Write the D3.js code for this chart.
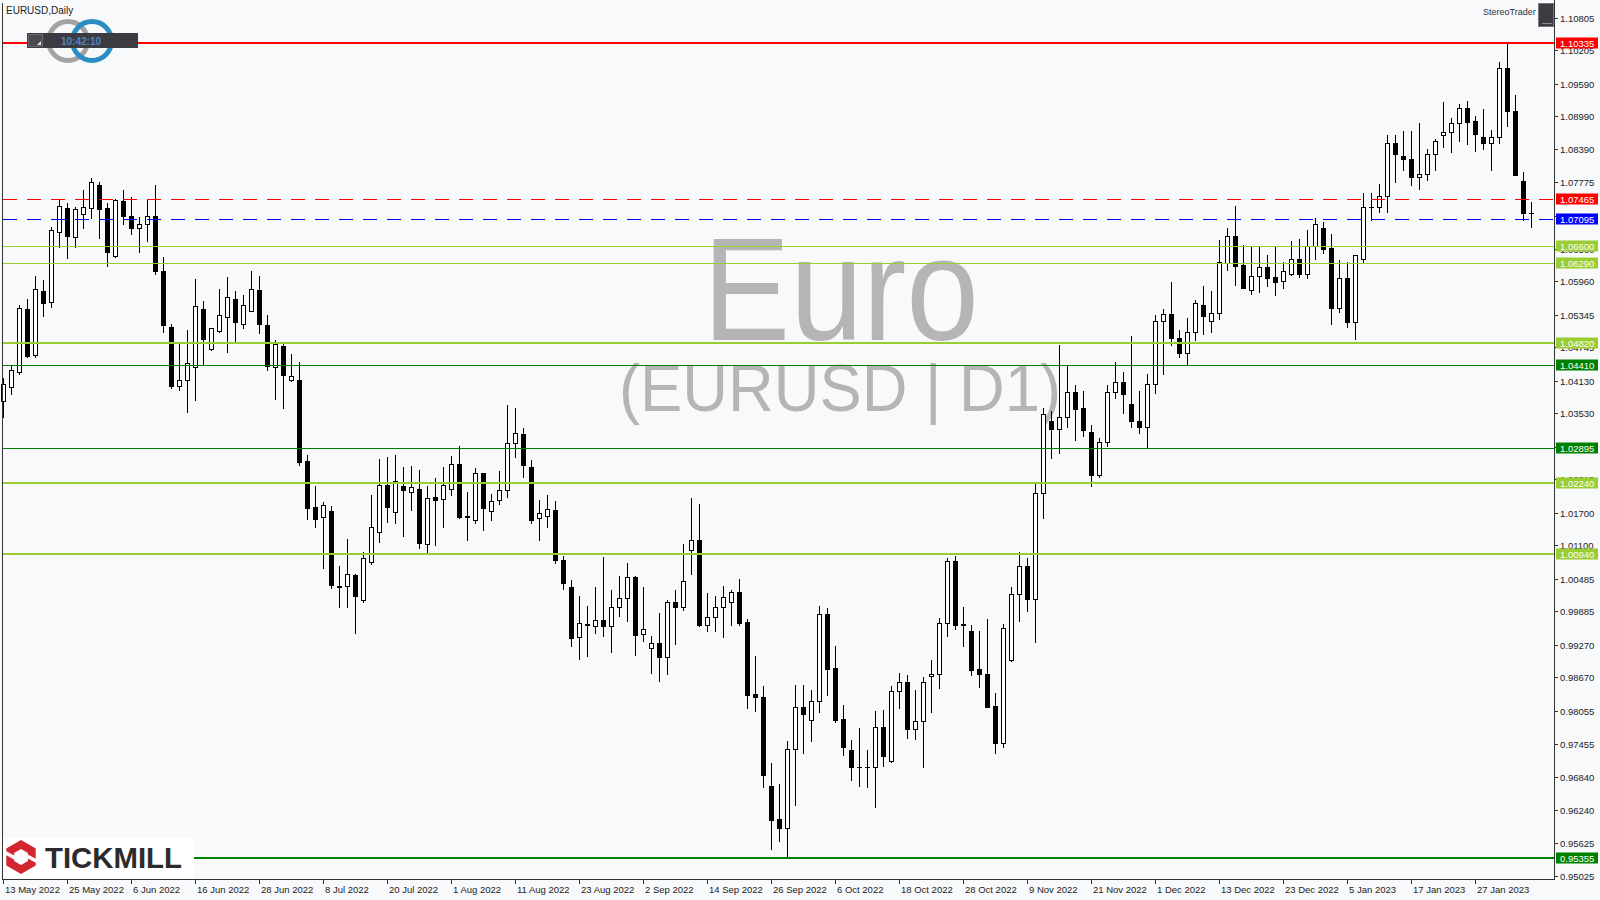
<!DOCTYPE html>
<html><head><meta charset="utf-8">
<script src="https://cdn.jsdelivr.net/npm/d3@7"></script>
<style>html,body{margin:0;padding:0;background:#f8f9fb;}svg{display:block;}</style>
</head><body>
<svg id="chart" width="1600" height="900"></svg>
<script>
// ---- data ----
const dateLabels = ["13 May 2022","25 May 2022","6 Jun 2022","16 Jun 2022","28 Jun 2022","8 Jul 2022","20 Jul 2022","1 Aug 2022","11 Aug 2022","23 Aug 2022","2 Sep 2022","14 Sep 2022","26 Sep 2022","6 Oct 2022","18 Oct 2022","28 Oct 2022","9 Nov 2022","21 Nov 2022","1 Dec 2022","13 Dec 2022","23 Dec 2022","5 Jan 2023","17 Jan 2023","27 Jan 2023"];
const barsPerLabel = 8;
const opens = [1.0376,1.0401,1.0429,1.0544,1.0460,1.0577,1.0557,1.0686,1.0730,1.0677,
1.0719,1.0730,1.0773,1.0730,1.0642,1.0743,1.0715,1.0693,1.0702,1.0715,
1.0614,1.0511,1.0404,1.0414,1.0438,1.0544,1.0472,1.0505,1.0530,1.0563,
1.0517,1.0542,1.0579,1.0515,1.0438,1.0476,1.0415,1.0415,1.0265,1.0181,
1.0162,1.0173,1.0035,1.0036,1.0056,1.0010,1.0080,1.0135,1.0221,1.0172,
1.0220,1.0208,1.0214,1.0113,1.0199,1.0195,1.0213,1.0260,1.0164,1.0157,
1.0243,1.0173,1.0193,1.0211,1.0298,1.0315,1.0254,1.0160,1.0164,1.0175,
1.0083,1.0033,0.9941,0.9964,0.9962,0.9973,0.9961,0.9996,1.0013,1.0051,
0.9947,0.9921,0.9930,0.9904,1.0006,0.9997,1.0101,1.0119,0.9964,0.9978,
0.9996,1.0005,1.0024,0.9969,0.9836,0.9831,0.9668,0.9606,0.9591,0.9735,
0.9812,0.9788,0.9823,0.9983,0.9884,0.9790,0.9734,0.9703,0.9702,0.9702,
0.9776,0.9714,0.9842,0.9858,0.9772,0.9787,0.9869,0.9873,0.9967,1.0081,
0.9964,0.9953,0.9883,0.9874,0.9815,0.9747,0.9899,1.0020,1.0072,1.0011,
1.0206,1.0339,1.0324,1.0346,1.0392,1.0362,1.0318,1.0239,1.0301,1.0393,
1.0410,1.0370,1.0339,1.0327,1.0406,1.0522,1.0535,1.0491,1.0464,1.0503,
1.0553,1.0523,1.0537,1.0630,1.0679,1.0626,1.0579,1.0605,1.0622,1.0604,
1.0596,1.0609,1.0636,1.0610,1.0660,1.0693,1.0657,1.0546,1.0601,1.0520,
1.0636,1.0732,1.0732,1.0753,1.0850,1.0827,1.0821,1.0787,1.0793,1.0829,
1.0864,1.0870,1.0886,1.0914,1.0891,1.0861,1.0850,1.0861,1.0988,1.0909,
1.0780,1.0722];
const highs = [1.0418,1.0441,1.0553,1.0563,1.0605,1.0598,1.0696,1.0747,1.0739,1.0733,
1.0764,1.0786,1.0778,1.0739,1.0748,1.0764,1.0751,1.0714,1.0747,1.0773,
1.0640,1.0518,1.0484,1.0506,1.0600,1.0560,1.0510,1.0582,1.0603,1.0578,
1.0570,1.0614,1.0605,1.0533,1.0488,1.0484,1.0462,1.0447,1.0276,1.0219,
1.0190,1.0183,1.0072,1.0122,1.0057,1.0097,1.0203,1.0269,1.0273,1.0276,
1.0254,1.0256,1.0249,1.0219,1.0234,1.0254,1.0274,1.0293,1.0208,1.0252,
1.0244,1.0205,1.0247,1.0368,1.0363,1.0326,1.0267,1.0194,1.0202,1.0192,
1.0091,1.0046,1.0017,0.9999,1.0034,1.0089,1.0028,1.0053,1.0077,1.0054,
1.0034,0.9943,0.9985,1.0009,1.0028,1.0112,1.0197,1.0186,1.0023,1.0017,
1.0035,1.0028,1.0049,0.9974,0.9907,0.9851,0.9709,0.9671,0.9750,0.9853,
0.9853,0.9844,0.9999,0.9995,0.9925,0.9816,0.9752,0.9774,0.9734,0.9806,
0.9807,0.9851,0.9875,0.9872,0.9844,0.9867,0.9899,0.9976,1.0087,1.0091,
0.9996,0.9964,0.9953,0.9974,0.9838,0.9966,1.0034,1.0097,1.0087,1.0222,
1.0363,1.0357,1.0479,1.0440,1.0405,1.0394,1.0331,1.0308,1.0405,1.0447,
1.0428,1.0495,1.0394,1.0426,1.0534,1.0545,1.0595,1.0506,1.0528,1.0562,
1.0587,1.0578,1.0672,1.0693,1.0734,1.0662,1.0658,1.0658,1.0644,1.0658,
1.0631,1.0669,1.0673,1.0690,1.0712,1.0705,1.0682,1.0635,1.0632,1.0645,
1.0759,1.0758,1.0774,1.0865,1.0865,1.0872,1.0872,1.0887,1.0839,1.0857,
1.0926,1.0896,1.0921,1.0927,1.0899,1.0913,1.0874,1.0999,1.1033,1.0938,
1.0797,1.0741];
const lows = [1.0347,1.0388,1.0426,1.0457,1.0457,1.0531,1.0549,1.0659,1.0639,1.0659,
1.0694,1.0713,1.0676,1.0624,1.0640,1.0702,1.0682,1.0650,1.0669,1.0610,
1.0503,1.0399,1.0395,1.0356,1.0378,1.0442,1.0469,1.0503,1.0466,1.0482,
1.0510,1.0541,1.0501,1.0433,1.0380,1.0363,1.0413,1.0258,1.0159,1.0143,
1.0069,1.0032,0.9997,0.9996,0.9949,1.0005,1.0076,1.0116,1.0153,1.0152,
1.0128,1.0175,1.0105,1.0094,1.0111,1.0144,1.0203,1.0160,1.0120,1.0151,
1.0138,1.0157,1.0187,1.0199,1.0273,1.0236,1.0151,1.0120,1.0143,1.0078,
1.0030,0.9924,0.9901,0.9907,0.9948,0.9943,0.9913,0.9980,0.9970,0.9909,
0.9935,0.9876,0.9861,0.9874,0.9929,0.9991,1.0057,0.9962,0.9953,0.9953,
0.9942,0.9964,0.9964,0.9810,0.9806,0.9666,0.9551,0.9567,0.9536,0.9633,
0.9728,0.9751,0.9804,0.9834,0.9786,0.9725,0.9679,0.9668,0.9666,0.9629,
0.9705,0.9712,0.9810,0.9755,0.9753,0.9703,0.9804,0.9847,0.9943,0.9956,
0.9924,0.9871,0.9850,0.9812,0.9729,0.9739,0.9898,0.9970,0.9990,0.9933,
1.0161,1.0270,1.0279,1.0328,1.0303,1.0312,1.0220,1.0236,1.0293,1.0381,
1.0353,1.0328,1.0317,1.0289,1.0391,1.0426,1.0479,1.0457,1.0441,1.0488,
1.0499,1.0503,1.0526,1.0617,1.0589,1.0583,1.0573,1.0576,1.0587,1.0571,
1.0584,1.0608,1.0603,1.0602,1.0636,1.0647,1.0518,1.0539,1.0512,1.0489,
1.0630,1.0709,1.0724,1.0724,1.0779,1.0800,1.0772,1.0765,1.0782,1.0800,
1.0843,1.0833,1.0854,1.0849,1.0836,1.0839,1.0800,1.0851,1.0881,1.0791,
1.0709,1.0695];
const closes = [1.0406,1.0432,1.0546,1.0459,1.0581,1.0556,1.0691,1.0734,1.0679,1.0728,
1.0732,1.0778,1.0729,1.0650,1.0745,1.0716,1.0693,1.0702,1.0715,1.0615,
1.0516,1.0404,1.0415,1.0445,1.0550,1.0490,1.0509,1.0533,1.0566,1.0520,
1.0553,1.0581,1.0518,1.0440,1.0480,1.0424,1.0421,1.0263,1.0179,1.0159,
1.0184,1.0038,1.0034,1.0057,1.0016,1.0086,1.0144,1.0221,1.0181,1.0228,
1.0212,1.0217,1.0115,1.0197,1.0194,1.0221,1.0259,1.0162,1.0163,1.0244,
1.0179,1.0191,1.0211,1.0298,1.0316,1.0257,1.0157,1.0169,1.0177,1.0084,
1.0040,0.9940,0.9967,0.9965,0.9973,0.9961,0.9996,1.0013,1.0051,0.9946,
0.9956,0.9930,0.9905,1.0005,0.9997,1.0044,1.0119,0.9964,0.9978,0.9996,
1.0015,1.0024,0.9968,0.9835,0.9832,0.9688,0.9605,0.9591,0.9735,0.9812,
0.9799,0.9823,0.9983,0.9883,0.9789,0.9740,0.9702,0.9702,0.9703,0.9776,
0.9723,0.9842,0.9858,0.9772,0.9787,0.9858,0.9873,0.9967,1.0081,0.9963,
0.9965,0.9881,0.9873,0.9813,0.9747,0.9958,1.0020,1.0072,1.0011,1.0206,
1.0351,1.0324,1.0346,1.0392,1.0361,1.0322,1.0239,1.0301,1.0393,1.0410,
1.0388,1.0338,1.0327,1.0406,1.0522,1.0535,1.0491,1.0464,1.0503,1.0555,
1.0531,1.0537,1.0631,1.0679,1.0624,1.0584,1.0605,1.0622,1.0602,1.0595,
1.0614,1.0636,1.0610,1.0660,1.0701,1.0656,1.0547,1.0601,1.0520,1.0644,
1.0732,1.0732,1.0753,1.0850,1.0829,1.0820,1.0787,1.0793,1.0829,1.0853,
1.0870,1.0886,1.0914,1.0889,1.0866,1.0850,1.0861,1.0988,1.0909,1.0792,
1.0722,1.0721];
const priceTicks = [1.10805,1.10205,1.09590,1.08990,1.08390,1.07775,1.07165,1.06560,1.05960,1.05345,1.04745,1.04130,1.03530,1.02915,1.02315,1.01700,1.01100,1.00485,0.99885,0.99270,0.98670,0.98055,0.97455,0.96840,0.96240,0.95625,0.95025];
const levelPrices = [1.10335,1.07465,1.07095,1.06600,1.06290,1.04820,1.04410,1.02895,1.02240,1.00940,0.95355];
const symbolTitle = "EURUSD,Daily";
const watermarkMain = "Euro";
const watermarkSub = "(EURUSD | D1)";
const clockText = "10:42:10";

// ---- styles (kept separate from data) ----
const RED = "#ff0000", BLUE = "#0000ff", YG = "#9acd32", GRN = "#008000";
const levelStyles = [
  {c:RED,w:2,dash:null},{c:RED,w:1,dash:"14,10"},{c:BLUE,w:1,dash:"14,10"},
  {c:YG,w:1,dash:null},{c:YG,w:1,dash:null},{c:YG,w:2,dash:null},
  {c:GRN,w:1,dash:null},{c:GRN,w:1,dash:null},{c:YG,w:2,dash:null},
  {c:YG,w:2,dash:null},{c:GRN,w:2,dash:null}
];
const FONT = "'Liberation Sans', Arial, sans-serif";

// ---- layout ----
const plotLeft = 3, plotRight = 1554, plotBottom = 879;
const svg = d3.select("#chart");
const n = opens.length;
const x = d3.scaleLinear().domain([0, n - 1]).range([3.3, 1531.3]);
const y = d3.scaleLinear().domain([0.95355, 1.10335]).range([857.7, 43.3]);
const cx = i => Math.round(x(i));

svg.append("rect").attr("width",1600).attr("height",900).attr("fill","#f8f9fb");

// watermark
const wm = svg.append("g").attr("fill","#b5b5b5").attr("font-family",FONT).attr("text-anchor","middle");
wm.append("text").attr("x",841).attr("y",340).attr("font-size",146)
  .attr("textLength",276).attr("lengthAdjust","spacingAndGlyphs").text(watermarkMain);
wm.append("text").attr("x",840).attr("y",411).attr("font-size",66)
  .attr("textLength",442).attr("lengthAdjust","spacingAndGlyphs").text(watermarkSub);

// candles
const gC = svg.append("g");
for (let i = 0; i < n; i++) {
  const c = cx(i);
  const o = opens[i], h = highs[i], l = lows[i], cl = closes[i];
  gC.append("line").attr("x1",c+0.5).attr("x2",c+0.5)
    .attr("y1",Math.round(y(h))).attr("y2",Math.round(y(l))+1)
    .attr("stroke","#000").attr("stroke-width",1);
  const top = Math.round(y(Math.max(o,cl))), bot = Math.round(y(Math.min(o,cl)));
  if (bot - top < 1) {
    gC.append("line").attr("x1",c-2).attr("x2",c+3).attr("y1",top+0.5).attr("y2",top+0.5)
      .attr("stroke","#000").attr("stroke-width",1);
  } else {
    gC.append("rect").attr("x",c-1.5).attr("y",top+0.5).attr("width",4).attr("height",bot-top)
      .attr("fill", cl >= o ? "#ffffff" : "#000000").attr("stroke","#000").attr("stroke-width",1);
  }
}

// horizontal levels
const gL = svg.append("g");
levelPrices.forEach((p,k) => {
  const s = levelStyles[k];
  const yy = s.w % 2 ? Math.round(y(p)) + 0.5 : Math.round(y(p));
  const ln = gL.append("line").attr("x1",plotLeft).attr("x2",plotRight).attr("y1",yy).attr("y2",yy)
    .attr("stroke",s.c).attr("stroke-width",s.w);
  if (s.dash) ln.attr("stroke-dasharray",s.dash);
});

// frame
svg.append("line").attr("x1",2.5).attr("x2",2.5).attr("y1",3).attr("y2",plotBottom+0.5).attr("stroke","#333");
svg.append("line").attr("x1",2).attr("x2",plotRight+1).attr("y1",plotBottom+0.5).attr("y2",plotBottom+0.5).attr("stroke","#333");
svg.append("line").attr("x1",plotRight+0.5).attr("x2",plotRight+0.5).attr("y1",0).attr("y2",plotBottom+1).attr("stroke","#333");

// price axis
const gA = svg.append("g").attr("font-family",FONT).attr("font-size",9.5).attr("fill","#222");
priceTicks.forEach(v => {
  const yy = Math.round(y(v)) + 0.5;
  gA.append("line").attr("x1",plotRight).attr("x2",plotRight+4).attr("y1",yy).attr("y2",yy).attr("stroke","#333");
  gA.append("text").attr("x",1560).attr("y",yy+3.5).text(v.toFixed(5));
});
// level labels
levelPrices.forEach((p,k) => {
  const yy = Math.round(y(p));
  svg.append("rect").attr("x",1556).attr("y",yy-5.5).attr("width",42).attr("height",11).attr("fill",levelStyles[k].c);
  svg.append("text").attr("x",1560).attr("y",yy+3.5).attr("font-family",FONT).attr("font-size",9.5)
    .attr("fill","#fff").text(p.toFixed(5));
});

// date axis
const gD = svg.append("g").attr("font-family",FONT).attr("font-size",9.5).attr("fill","#222");
dateLabels.forEach((t,k) => {
  const c = cx(k * barsPerLabel);
  gD.append("line").attr("x1",c+0.5).attr("x2",c+0.5).attr("y1",plotBottom).attr("y2",plotBottom+5).attr("stroke","#333");
  gD.append("text").attr("x",c+2).attr("y",893).text(t);
});

// title
svg.append("text").attr("x",6).attr("y",14).attr("font-family",FONT).attr("font-size",10).attr("fill","#222").text(symbolTitle);

// StereoTrader logo rings + clock
svg.append("circle").attr("cx",68).attr("cy",41).attr("r",19.5).attr("fill","none").attr("stroke","#a3a3a3").attr("stroke-width",5);
svg.append("circle").attr("cx",92).attr("cy",41).attr("r",19.5).attr("fill","none").attr("stroke","#2b8dc2").attr("stroke-width",5);
svg.append("rect").attr("x",27).attr("y",33).attr("width",111).attr("height",15).attr("fill","#3c3b41");
svg.append("rect").attr("x",28.5).attr("y",34.5).attr("width",14).attr("height",12).attr("fill","#4b4a50").attr("stroke","#6a6a70");
svg.append("path").attr("d","M41,45 L37,45 L41,41 Z").attr("fill","#e8e8e8");
svg.append("text").attr("x",81).attr("y",44.5).attr("text-anchor","middle").attr("font-family",FONT)
  .attr("font-size",10).attr("font-weight","bold").attr("fill","#4f86c0").text(clockText);

// StereoTrader label + button
svg.append("text").attr("x",1483).attr("y",15).attr("font-family",FONT).attr("font-size",9).attr("fill","#333").text("StereoTrader");
svg.append("rect").attr("x",1538.5).attr("y",3.5).attr("width",15).attr("height",23).attr("fill","#3c3b41").attr("stroke","#777");
svg.append("line").attr("x1",1542).attr("x2",1552).attr("y1",23.5).attr("y2",23.5).attr("stroke","#888");

// Tickmill logo
const gT = svg.append("g");
gT.append("rect").attr("x",3).attr("y",838).attr("width",191).attr("height",40).attr("fill","#ffffff");
const hex = (r, cxh, cyh) => d3.range(6).map(k => { const a = Math.PI/6 + k*Math.PI/3; return [cxh + r*Math.cos(a), cyh + r*Math.sin(a)]; });
gT.append("path").attr("d", d3.line()(hex(17,21,857)) + "Z").attr("fill","#d42631");
gT.append("path").attr("d", d3.line()(hex(8,21,857)) + "Z").attr("fill","#ffffff");
gT.append("path").attr("d","M4,850 L15,856 L15,860 L4,854 Z").attr("fill","#ffffff");
gT.append("path").attr("d","M38,864 L27,858 L27,854 L38,860 Z").attr("fill","#ffffff");
gT.append("text").attr("x",45).attr("y",868).attr("font-family",FONT).attr("font-size",30).attr("font-weight","bold")
  .attr("fill","#2b2b2b").attr("textLength",137).attr("lengthAdjust","spacingAndGlyphs").text("TICKMILL");
</script>
</body></html>
